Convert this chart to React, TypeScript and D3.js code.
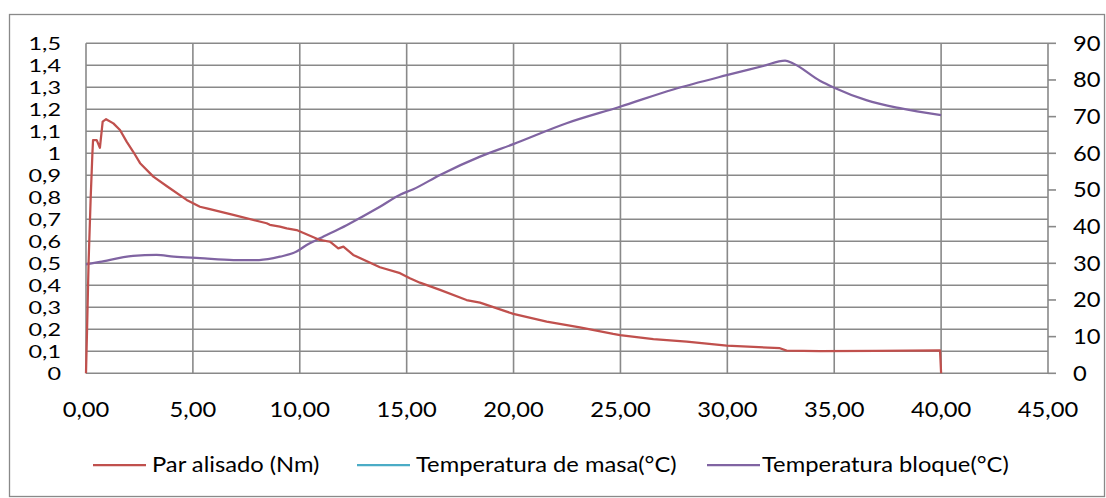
import React from "react";
import * as d3 from "d3";

// Elapsed time (min) and smoothed torque (Nm)
const torqueTime = [0, 0.05, 0.12, 0.22, 0.3, 0.33, 0.5, 0.65, 0.78, 0.94, 1.28, 1.59, 1.9, 2.21, 2.53, 3.15, 3.82, 4.71, 5.33, 5.65, 6.89, 8.45, 8.6, 9.07, 9.39, 9.85, 10.94, 11.41, 11.8, 12.04, 12.5, 13.75, 14.69, 15.15, 15.62, 16.56, 17.8, 18.43, 19.99, 21.55, 23.1, 24.66, 24.98, 26.54, 28.1, 29.97, 32.46, 32.77, 34.33, 37, 39.95, 40.0];
const torqueValue = [0, 0.2, 0.5, 0.8, 1.0, 1.06, 1.06, 1.025, 1.144, 1.155, 1.136, 1.106, 1.053, 1.007, 0.955, 0.894, 0.848, 0.788, 0.757, 0.75, 0.72, 0.682, 0.675, 0.667, 0.659, 0.651, 0.606, 0.598, 0.568, 0.576, 0.538, 0.482, 0.455, 0.432, 0.412, 0.379, 0.333, 0.321, 0.27, 0.235, 0.209, 0.179, 0.174, 0.155, 0.144, 0.126, 0.114, 0.103, 0.101, 0.102, 0.104, 0];

// Elapsed time (min) and block temperature (°C)
const blockTime = [0, 0.65, 2.2, 3.3, 4.1, 5.33, 6.9, 8.1, 9.07, 9.85, 10.32, 10.94, 12.19, 13.75, 14.69, 15.31, 16.56, 18.43, 19.99, 22.48, 24.98, 27.47, 29.97, 31.68, 32.7, 33.08, 34.33, 35, 36.5, 38.07, 40];
const blockTemp = [29.7, 30.4, 32.0, 32.3, 31.8, 31.4, 30.9, 30.9, 31.8, 33.2, 35.0, 36.8, 40.4, 45.4, 48.7, 50.2, 54.1, 59.1, 62.5, 68.2, 72.7, 77.4, 81.3, 83.8, 85.3, 84.5, 79.8, 77.9, 74.5, 72.3, 70.4];

// Mass temperature series carries no readings
const massTime: number[] = [];
const massTemp: number[] = [];

const xTicks = [0, 5, 10, 15, 20, 25, 30, 35, 40, 45];
const leftTicks = [0, 0.1, 0.2, 0.3, 0.4, 0.5, 0.6, 0.7, 0.8, 0.9, 1, 1.1, 1.2, 1.3, 1.4, 1.5];
const rightTicks = [0, 10, 20, 30, 40, 50, 60, 70, 80, 90];

const seriesNames = ["Par alisado (Nm)", "Temperatura de masa(°C)", "Temperatura bloque(°C)"];
const seriesColors = ["#C0504D", "#4BACC6", "#8064A2"];

const W = 1106;
const H = 498;
const plot = { left: 86, right: 1048, top: 43.3, bottom: 373.3 };
const FONT = "Lato, 'Open Sans', sans-serif";
const GRID = "#898989";

const fmtComma = (d: number, digits: number) =>
  d3.format(`.${digits}f`)(d).replace(".", ",");
const fmtLeft = (d: number) => {
  if (Math.abs(d - Math.round(d)) < 1e-9) return String(Math.round(d));
  return fmtComma(d, 1);
};

type LabelProps = {
  x: number;
  y: number;
  anchor: "start" | "middle" | "end";
  children: React.ReactNode;
  dy?: string;
  size?: number;
  sx?: number;
};

// Text with horizontally widened glyphs
function Label({ x, y, anchor, children, dy = "0", size = 21, sx = 1.13 }: LabelProps) {
  return (
    <text
      transform={`translate(${x},${y}) scale(${sx},1)`}
      dy={dy}
      textAnchor={anchor}
      fontFamily={FONT}
      fontSize={size}
      fill="#000"
    >
      {children}
    </text>
  );
}

export default function App() {
  const x = d3.scaleLinear().domain([0, 45]).range([plot.left, plot.right]);
  const yL = d3.scaleLinear().domain([0, 1.5]).range([plot.bottom, plot.top]);
  const yR = d3.scaleLinear().domain([0, 90]).range([plot.bottom, plot.top]);

  const torqueLine = d3
    .line<number>()
    .x((_, i) => x(torqueTime[i]))
    .y((d) => yL(d))
    .curve(d3.curveLinear);
  const blockLine = d3
    .line<number>()
    .x((_, i) => x(blockTime[i]))
    .y((d) => yR(d))
    .curve(d3.curveMonotoneX);
  const massLine = d3
    .line<number>()
    .x((_, i) => x(massTime[i]))
    .y((d) => yR(d));

  const legendItems = [
    { lx: 93, tx: 152 },
    { lx: 357, tx: 416 },
    { lx: 707, tx: 762 },
  ];

  return (
    <svg width={W} height={H} style={{ position: "absolute", left: 0, top: 0, background: "#fff" }}>
      <rect x={9.5} y={14.5} width={1095} height={482} fill="#fff" stroke={GRID} strokeWidth={1.3} />

      {/* horizontal grid (left axis) */}
      {leftTicks.map((t) => (
        <line key={"h" + t} x1={plot.left} x2={plot.right} y1={yL(t)} y2={yL(t)} stroke={GRID} strokeWidth={1.6} />
      ))}
      {/* vertical grid */}
      {xTicks.map((t) => (
        <line key={"v" + t} x1={x(t)} x2={x(t)} y1={plot.top} y2={plot.bottom} stroke={GRID} strokeWidth={1.6} />
      ))}
      {/* right axis ticks */}
      {rightTicks.map((t) => (
        <line key={"r" + t} x1={plot.right} x2={plot.right + 8} y1={yR(t)} y2={yR(t)} stroke={GRID} strokeWidth={1.6} />
      ))}

      {/* left tick labels */}
      {leftTicks.map((t) => (
        <Label key={"lt" + t} x={61} y={yL(t)} dy="0.36em" anchor="end" size={18} sx={1.3}>
          {fmtLeft(t)}
        </Label>
      ))}
      {/* right tick labels */}
      {rightTicks.map((t) => (
        <Label key={"rt" + t} x={1073} y={yR(t)} dy="0.35em" anchor="start">
          {t}
        </Label>
      ))}
      {/* x tick labels */}
      {xTicks.map((t) => (
        <Label key={"xt" + t} x={x(t)} y={417} anchor="middle">
          {fmtComma(t, 2)}
        </Label>
      ))}

      {/* series */}
      {massTime.length > 0 && (
        <path d={massLine(massTemp) || ""} fill="none" stroke={seriesColors[1]} strokeWidth={2.25} />
      )}
      <path d={blockLine(blockTemp) || ""} fill="none" stroke={seriesColors[2]} strokeWidth={2.25} strokeLinejoin="round" />
      <path d={torqueLine(torqueValue) || ""} fill="none" stroke={seriesColors[0]} strokeWidth={2.25} strokeLinejoin="round" />

      {/* legend */}
      {seriesNames.map((name, i) => (
        <g key={name}>
          <line x1={legendItems[i].lx} x2={legendItems[i].lx + 53} y1={465} y2={465} stroke={seriesColors[i]} strokeWidth={2.25} />
          <Label x={legendItems[i].tx} y={465} dy="0.35em" anchor="start">
            {name}
          </Label>
        </g>
      ))}
    </svg>
  );
}
